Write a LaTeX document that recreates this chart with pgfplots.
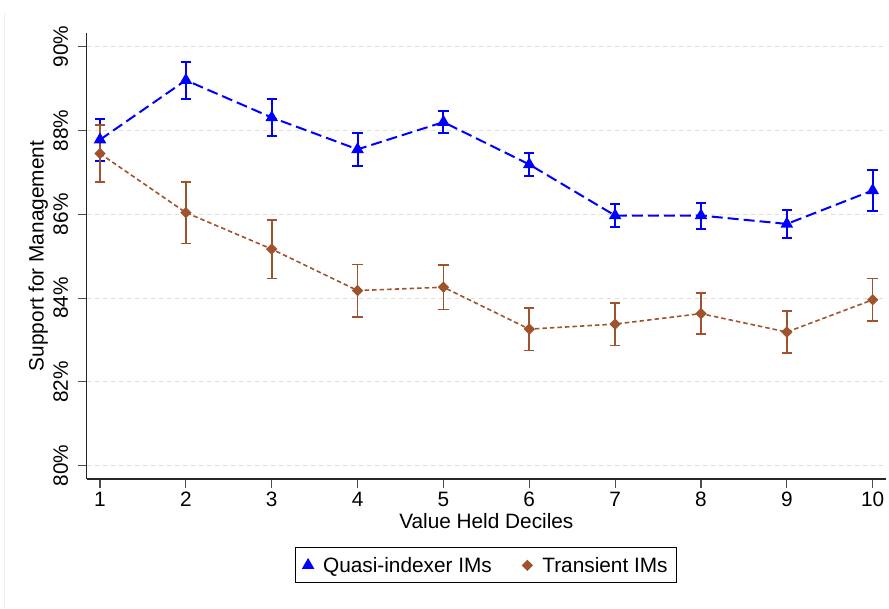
\documentclass[border=0pt]{standalone}
\usepackage{fontspec}
\setmainfont{Liberation Sans}
\usepackage{pgfplots}
\usepackage{pgfplotstable}
\pgfplotsset{compat=1.18}

\definecolor{qblue}{RGB}{0,0,255}
\definecolor{tbrown}{RGB}{160,82,45}
\definecolor{gridgray}{RGB}{222,222,222}

% decile, mean support, half-width of the confidence interval
\pgfplotstableread{
x  y      e
1  87.78  0.500
2  89.20  0.445
3  88.31  0.445
4  87.55  0.400
5  88.20  0.270
6  87.19  0.270
7  85.97  0.280
8  85.97  0.310
9  85.77  0.330
10 86.57  0.485
}\quasidata

\pgfplotstableread{
x  y      e
1  87.45  0.680
2  86.04  0.735
3  85.17  0.700
4  84.18  0.625
5  84.26  0.530
6  83.26  0.510
7  83.38  0.510
8  83.63  0.490
9  83.19  0.505
10 83.96  0.510
}\transdata

\newcommand{\chartfont}{\fontsize{20.8}{25}\selectfont}

\begin{document}
\begin{tikzpicture}[x=1pt,y=1pt]
\useasboundingbox (0,0) rectangle (889,608);
\draw[black!7, line width=1pt] (4,0) -- (4,595);
\begin{axis}[
  at={(86.7pt,129pt)}, anchor=south west,
  scale only axis, width=799.3pt, height=446pt,
  xmin=0.845, xmax=10.155, ymin=79.683, ymax=90.327,
  clip=false,
  axis lines*=left,
  axis line style={line width=1.3pt, black!85},
  xtick={1,2,...,10},
  ytick={80,82,...,90},
  yticklabels={80\%,82\%,84\%,86\%,88\%,90\%},
  /pgf/number format/assume math mode=true,
  tick align=outside, major tick length=9pt,
  tick style={line width=1.1pt, black!70},
  ymajorgrids,
  grid style={gridgray, line width=1pt, dash pattern=on 4pt off 4pt},
  tick label style={font=\chartfont},
  label style={font=\chartfont},
  yticklabel style={rotate=90, anchor=south, inner sep=0pt, yshift=9.5pt},
  xticklabel style={inner sep=0pt, yshift=-3.5pt},
  xlabel={Value Held Deciles},
  xlabel style={at={(axis description cs:0.5,0)}, anchor=north,
    inner sep=0pt, yshift=-34pt},
  ylabel={Support for Management},
  ylabel style={at={(axis description cs:0,0.5)}, anchor=north,
    inner sep=0pt, yshift=58.4pt},
  legend columns=2,
  legend style={at={(0.5,0)}, anchor=north, yshift=-68.3pt,
    draw=black, line width=0.8pt, font=\chartfont,
    inner xsep=7.3pt, inner ysep=7.3pt,
    /tikz/every even column/.append style={column sep=28.5pt}},
]
\addplot[qblue, line width=2pt, dash pattern=on 11pt off 5pt,
  mark=triangle*, mark size=5.3pt, mark options={solid, fill=qblue},
  legend image code/.code={
    \path[draw=none, fill=none] (0pt,-5pt) rectangle (18pt,5pt);
    \path[draw=none, fill=none, mark=triangle*, mark size=5.3pt,
      mark options={draw=qblue, fill=qblue, solid}] plot coordinates {(5pt,0pt)};
  },
  error bars/.cd, y dir=both, y explicit,
  error bar style={solid, line width=2pt},
  error mark options={rotate=90, mark size=5.2pt, line width=2pt, solid}]
  table[x=x, y=y, y error=e] {\quasidata};
\addlegendentry{Quasi-indexer IMs}

\addplot[tbrown, line width=1.6pt, dash pattern=on 4.5pt off 3pt,
  mark=square*, mark size=3.2pt, mark options={solid, rotate=45, fill=tbrown},
  legend image code/.code={
    \path[draw=none, fill=none] (0pt,-5pt) rectangle (18pt,5pt);
    \path[draw=none, fill=none, mark=square*, mark size=3.2pt,
      mark options={draw=tbrown, fill=tbrown, rotate=45, solid}] plot coordinates {(5pt,0pt)};
  },
  error bars/.cd, y dir=both, y explicit,
  error bar style={solid, line width=1.6pt},
  error mark options={rotate=90, mark size=5.2pt, line width=1.6pt, solid}]
  table[x=x, y=y, y error=e] {\transdata};
\addlegendentry{Transient IMs}
\end{axis}
\end{tikzpicture}
\end{document}
